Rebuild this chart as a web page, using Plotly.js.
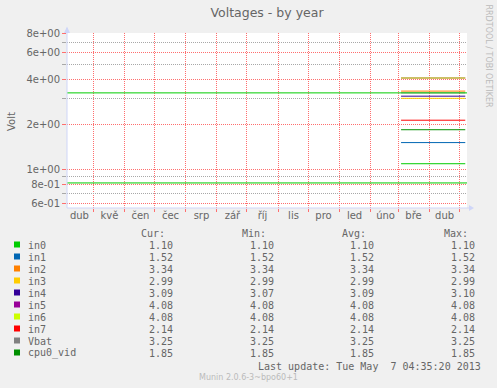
<!DOCTYPE html>
<html>
<head>
<meta charset="utf-8">
<script src="https://cdn.plot.ly/plotly-3.0.1.min.js"></script>
<style>html,body{margin:0;padding:0;background:#F0F0F0;}#chart{width:497px;height:388px;}</style>
</head>
<body>
<div id="chart"></div>
<script>
// ---- data ----
const monthStarts = ['2012-05-01','2012-06-01','2012-07-01','2012-08-01','2012-09-01','2012-10-01',
  '2012-11-01','2012-12-01','2013-01-01','2013-02-01','2013-03-01','2013-04-01','2013-05-01'];
const monthLabelDates = ['2012-04-16 12:00','2012-05-16 12:00','2012-06-16 12:00','2012-07-16 12:00',
  '2012-08-16 12:00','2012-09-16 12:00','2012-10-16 12:00','2012-11-16 12:00','2012-12-16 12:00',
  '2013-01-16 12:00','2013-02-16 12:00','2013-03-16 12:00','2013-04-16 12:00'];
const monthLabels = ['dub','kvě','čen','čec','srp','zář','říj','lis','pro','led','úno','bře','dub'];

const yTickVals = [0.6, 0.8, 1, 2, 4, 6, 8];
const yTickText = ['6e-01','8e-01','1e+00','2e+00','4e+00','6e+00','8e+00'];
const yMinorVals = [0.7, 0.9, 3, 5, 7];

const seriesNames  = ['in0','in1','in2','in3','in4','in5','in6','in7','Vbat','cpu0_vid'];
const seriesColors = ['#00CC00','#0066B3','#FF8000','#FFCC00','#330099','#990099','#CCFF00','#FF0000','#808080','#008F00'];
const curValues = [1.10, 1.52, 3.34, 2.99, 3.09, 4.08, 4.08, 2.14, 3.25, 1.85];
const minValues = [1.10, 1.52, 3.34, 2.99, 3.07, 4.08, 4.08, 2.14, 3.25, 1.85];
const avgValues = [1.10, 1.52, 3.34, 2.99, 3.09, 4.08, 4.08, 2.14, 3.25, 1.85];
const maxValues = [1.10, 1.52, 3.34, 2.99, 3.10, 4.08, 4.08, 2.14, 3.25, 1.85];
const segmentTimes = ['2013-03-04 00:00', '2013-05-07 04:35'];

const oldLevels = [3.25, 0.82];
const oldColor = '#00CC00';
const oldTimes = ['2012-04-04 02:00', '2013-05-08 22:00'];

const xRange = ['2012-04-04 02:00', '2013-05-08 22:00'];
const yRange = [Math.log10(0.559), Math.log10(8.12)];

// ---- geometry helpers (pixel -> paper) ----
const L = 67, R = 30, T = 33, B = 180, W = 497, H = 388;
const PW = W - L - R, PH = H - T - B;
const px = x => (x - L) / PW;
const py = y => (H - B - y) / PH;

const FONT = 'DejaVu Sans, sans-serif';
const MONO = 'DejaVu Sans Mono, monospace';
const TXT = '#666666';
const MGRID = '#FF6E6E';
const GRID = '#A8A8A8';
const AXIS = '#CFD6F8';

const traces = [];
seriesNames.forEach((n, i) => {
  traces.push({
    type: 'scatter', mode: 'lines', name: n,
    x: segmentTimes, y: [avgValues[i], avgValues[i]],
    line: {color: seriesColors[i], width: 1}, hoverinfo: 'skip'
  });
});
oldLevels.forEach((v, i) => {
  traces.push({
    type: 'scatter', mode: 'lines', name: 'old' + i,
    x: oldTimes, y: [v, v],
    line: {color: oldColor, width: 1}, hoverinfo: 'skip'
  });
});

const annotations = [];
const shapes = [];
const legendRow0 = 245, rowStep = 12, headerY = 233;
const colRight = [175, 276, 376, 477];
const headRight = [167, 268, 368, 470];
const headers = ['Cur:', 'Min:', 'Avg:', 'Max:'];
const mk = (text, x, y, xanchor, font) => ({
  text, x: px(x), y: py(y), xref: 'paper', yref: 'paper',
  xanchor, yanchor: 'middle', showarrow: false, font
});
const monoFont = {family: MONO, size: 10, color: TXT};
headers.forEach((h, j) => annotations.push(mk(h, headRight[j], headerY, 'right', monoFont)));
const cols = [curValues, minValues, avgValues, maxValues];
seriesNames.forEach((n, i) => {
  const y = legendRow0 + i * rowStep;
  annotations.push(mk(n, 26, y, 'left', monoFont));
  cols.forEach((c, j) => annotations.push(mk(c[i].toFixed(2), colRight[j], y, 'right', monoFont)));
  shapes.push({type: 'rect', xref: 'paper', yref: 'paper',
    x0: px(14), x1: px(20), y0: py(y + 2.5), y1: py(y - 3.5),
    fillcolor: seriesColors[i], line: {width: 0}});
});
annotations.push(mk('Last update: Tue May\u00a0\u00a07 04:35:20 2013', 483, 366, 'right', monoFont));
annotations.push(mk('Munin 2.0.6-3~bpo60+1', 248, 377, 'center', {family: FONT, size: 8, color: '#BBBBBB'}));
annotations.push({text: 'RRDTOOL / TOBI OETIKER', x: px(488.5), y: py(56), xref: 'paper', yref: 'paper',
  xanchor: 'center', yanchor: 'middle', textangle: 90, showarrow: false,
  font: {family: FONT, size: 8, color: '#BBBBBB'}});
annotations.push({text: 'Volt', x: px(11), y: py(121), xref: 'paper', yref: 'paper',
  xanchor: 'center', yanchor: 'middle', textangle: -90, showarrow: false,
  font: {family: FONT, size: 10, color: TXT}});

// axis arrows
shapes.push({type: 'line', xref: 'paper', yref: 'paper', x0: px(67), x1: px(67), y0: py(208), y1: py(28),
  line: {color: AXIS, width: 1}});
shapes.push({type: 'path', xref: 'paper', yref: 'paper',
  path: `M ${px(64)} ${py(33)} L ${px(70)} ${py(33)} L ${px(67)} ${py(26.5)} Z`,
  fillcolor: AXIS, line: {width: 0}});
shapes.push({type: 'line', xref: 'paper', yref: 'paper', x0: px(67), x1: px(470), y0: py(208), y1: py(208),
  line: {color: AXIS, width: 1}});
shapes.push({type: 'path', xref: 'paper', yref: 'paper',
  path: `M ${px(469)} ${py(205)} L ${px(469)} ${py(211)} L ${px(474)} ${py(208)} Z`,
  fillcolor: AXIS, line: {width: 0}});

const layout = {
  width: W, height: H,
  paper_bgcolor: '#F0F0F0', plot_bgcolor: '#FFFFFF',
  margin: {l: L, r: R, t: T, b: B, pad: 0},
  showlegend: false,
  title: {text: 'Voltages - by year', x: px(267), xref: 'paper', xanchor: 'center',
    y: 1 - 13 / H, yref: 'container', yanchor: 'middle',
    font: {family: FONT, size: 12.5, color: TXT}},
  xaxis: {
    type: 'date', range: xRange, fixedrange: true,
    tickmode: 'array', tickvals: monthLabelDates, ticktext: monthLabels,
    ticks: '', showgrid: false, zeroline: false, showline: false,
    tickfont: {family: FONT, size: 10, color: TXT},
    minor: {tickmode: 'array', tickvals: monthStarts, showgrid: true, gridcolor: MGRID,
      griddash: '1px,1px', gridwidth: 1, ticks: 'outside', ticklen: 3, tickcolor: MGRID}
  },
  yaxis: {
    type: 'log', range: yRange, fixedrange: true,
    tickmode: 'array', tickvals: yTickVals, ticktext: yTickText,
    showgrid: true, gridcolor: MGRID, griddash: '1px,1px', gridwidth: 1,
    ticks: 'outside', ticklen: 4, tickcolor: MGRID,
    showline: false, zeroline: false,
    tickfont: {family: FONT, size: 10, color: TXT},
    minor: {tickmode: 'array', tickvals: yMinorVals, showgrid: true, gridcolor: GRID,
      griddash: '1px,1px', gridwidth: 1, ticks: 'outside', ticklen: 4, tickcolor: GRID}
  },
  annotations, shapes
};

Plotly.newPlot('chart', traces, layout, {staticPlot: true, displayModeBar: false});
</script>
</body>
</html>
